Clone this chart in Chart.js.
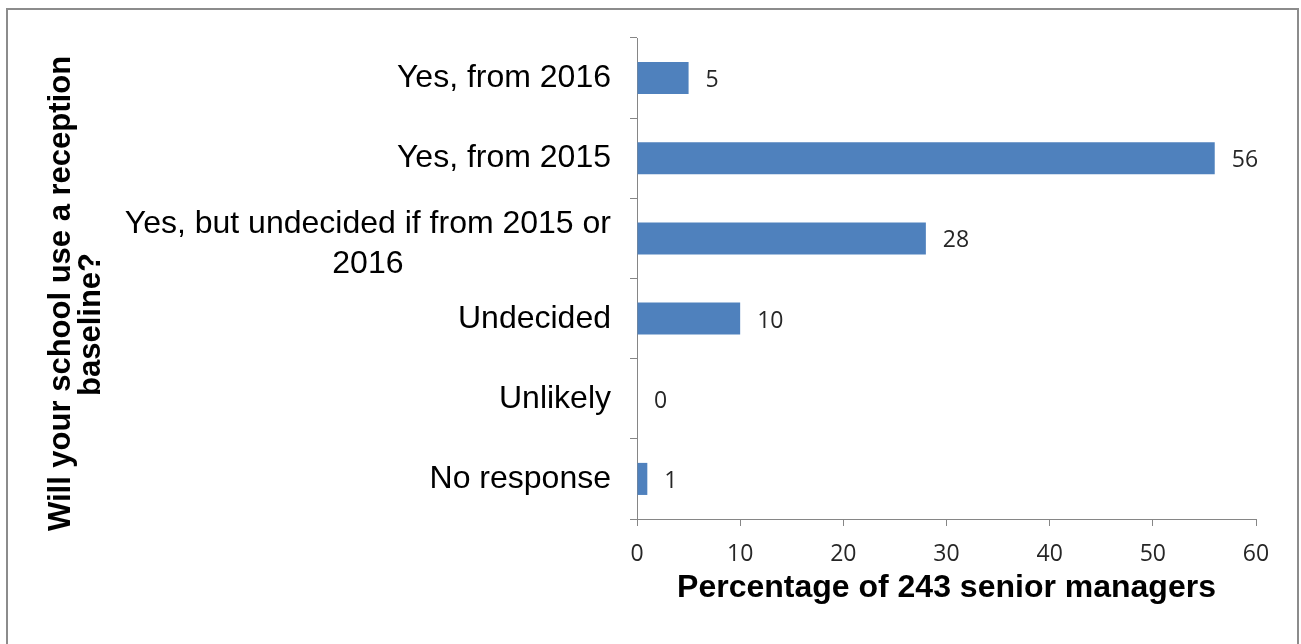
<!DOCTYPE html>
<html>
<head>
<meta charset="utf-8">
<script src="https://cdn.jsdelivr.net/npm/chart.js@4/dist/chart.umd.min.js"></script>
<style>
  html, body { margin: 0; padding: 0; background: #fff; overflow: hidden; }
  #wrap { position: relative; width: 1301px; height: 644px; }
  #frame { position: absolute; left: 6px; top: 8px; width: 1289px; height: 700px; border: 2px solid #8c8c8c; pointer-events: none; }
</style>
</head>
<body>
<div id="wrap">
  <canvas id="chart" width="1301" height="644"></canvas>
  <div id="frame"></div>
</div>
<script>
// chart data
const categories = [
  ['Yes, from 2016'],
  ['Yes, from 2015'],
  ['Yes, but undecided if from 2015 or', '2016'],
  ['Undecided'],
  ['Unlikely'],
  ['No response']
];
const values = [5, 56, 28, 10, 0, 1];
const xTicks = [0, 10, 20, 30, 40, 50, 60];
const yTitle = ['Will your school use a reception', 'baseline?'];
const xTitle = 'Percentage of 243 senior managers';

const axisGrey = '#868686';
const barBlue = '#4f81bd';

// category labels, value labels and the rotated y title
const labelPlugin = {
  id: 'labels',
  afterDatasetsDraw(chart) {
    const ctx = chart.ctx;
    const area = chart.chartArea;
    const yScale = chart.scales.y;
    ctx.save();
    ctx.fillStyle = '#000';

    // category labels, multi-line centered within a right-aligned block
    ctx.font = '32px "Liberation Sans", Arial, sans-serif';
    categories.forEach((lines, i) => {
      const c = yScale.getPixelForValue(i);
      const w = Math.max(...lines.map(l => ctx.measureText(l).width));
      const right = area.left - 26;
      ctx.textAlign = lines.length > 1 ? 'center' : 'right';
      const x = lines.length > 1 ? right - w / 2 : right;
      lines.forEach((l, j) => {
        ctx.textBaseline = 'alphabetic';
        ctx.fillText(l, x, c + 9 - (lines.length - 1) * 14 + j * 40);
      });
    });

    // value labels at bar ends
    ctx.font = '23px "Open Sans", sans-serif';
    ctx.fillStyle = '#262626';
    ctx.textAlign = 'left';
    const meta = chart.getDatasetMeta(0);
    meta.data.forEach((bar, i) => {
      ctx.fillText(String(values[i]), bar.x + 17, bar.y + 9);
    });

    // y axis title
    ctx.fillStyle = '#000';
    ctx.font = 'bold 31px "Liberation Sans", Arial, sans-serif';
    ctx.textAlign = 'center';
    const mid = (area.top + area.bottom) / 2;
    const pos = [[70, mid + 15], [100, mid + 46]];
    yTitle.forEach((t, j) => {
      ctx.save();
      ctx.translate(pos[j][0], pos[j][1]);
      ctx.rotate(-Math.PI / 2);
      ctx.fillText(t, 0, 0);
      ctx.restore();
    });
    ctx.restore();
  }
};

new Chart(document.getElementById('chart'), {
  type: 'bar',
  data: {
    labels: categories.map(l => l.join(' ')),
    datasets: [{
      data: values,
      backgroundColor: barBlue,
      barPercentage: 0.4,
      categoryPercentage: 1
    }]
  },
  options: {
    indexAxis: 'y',
    responsive: false,
    animation: false,
    devicePixelRatio: 1,
    layout: { padding: { top: 38, right: 45, left: 0, bottom: 0 } },
    plugins: {
      legend: { display: false },
      tooltip: { enabled: false }
    },
    scales: {
      x: {
        type: 'linear',
        min: xTicks[0],
        max: xTicks[xTicks.length - 1],
        afterBuildTicks: scale => { scale.ticks = xTicks.map(v => ({ value: v })); },
        afterFit: scale => { scale.height = 125; },
        grid: { drawOnChartArea: false, drawTicks: true, tickLength: 7, color: axisGrey },
        border: { display: true, color: axisGrey, width: 1 },
        ticks: {
          padding: 15,
          color: '#262626',
          font: { family: '"Open Sans", sans-serif', size: 23 }
        },
        title: {
          display: true,
          text: xTitle,
          color: '#000',
          font: { family: '"Liberation Sans", Arial, sans-serif', size: 32, weight: 'bold' },
          padding: { top: 0, bottom: 37 }
        }
      },
      y: {
        afterFit: scale => { scale.width = 637; },
        grid: { drawOnChartArea: false, drawTicks: true, tickLength: 7, color: axisGrey, offset: true },
        border: { display: true, color: axisGrey, width: 1 },
        ticks: { display: false }
      }
    }
  },
  plugins: [labelPlugin]
});
</script>
</body>
</html>
